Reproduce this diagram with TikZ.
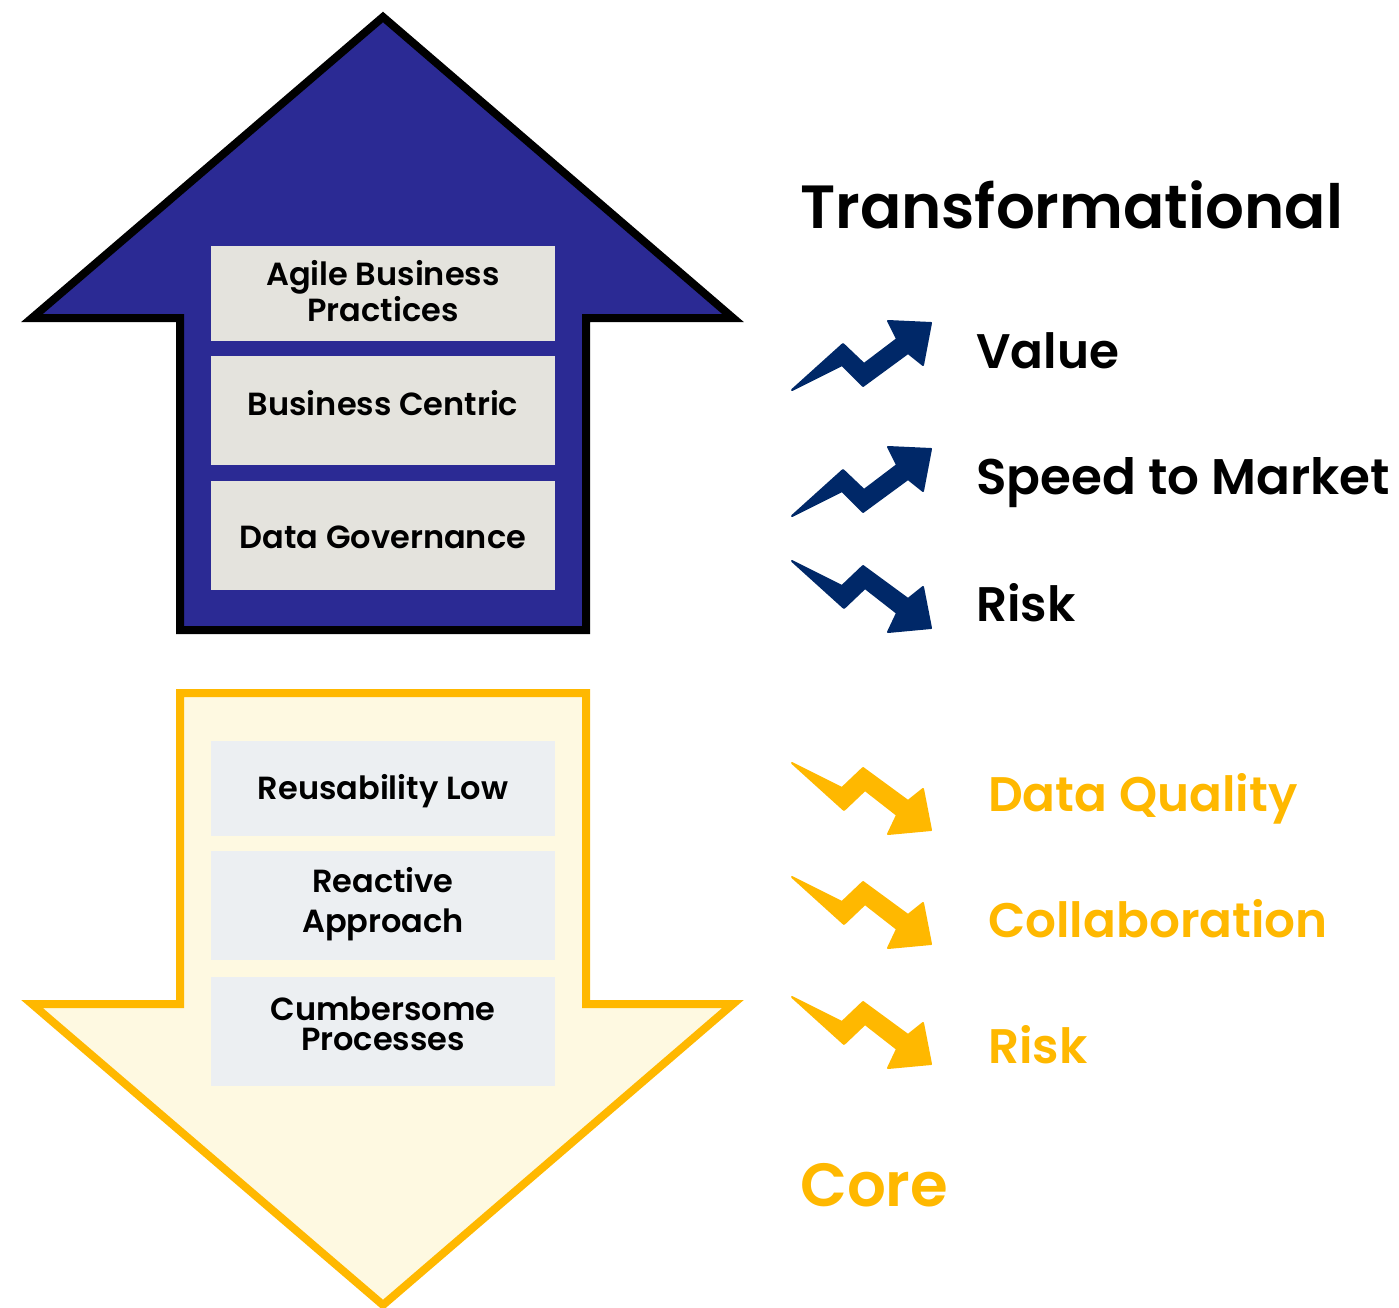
\documentclass[tikz,border=0pt]{standalone}
\usepackage{fontspec}
\setmainfont{Poppins}[BoldFont={Poppins SemiBold}]
\definecolor{upblue}{HTML}{2B2A94}
\definecolor{iconblue}{HTML}{002868}
\definecolor{coreyellow}{HTML}{FFB800}
\definecolor{corefill}{HTML}{FEF9E1}
\definecolor{upbox}{HTML}{E4E3DD}
\definecolor{downbox}{HTML}{ECEFF2}
\newcommand{\boxlift}[2]{\raisebox{#1}[0pt][0pt]{\begin{tabular}{c}#2\end{tabular}}}
\tikzset{
    every node/.style={inner sep=0mm},
    upbox/.style={fill=upbox, minimum width=344pt, font=\fontsize{32}{36}\selectfont\bfseries},
    downbox/.style={fill=downbox, minimum width=344pt, font=\fontsize{32}{36}\selectfont\bfseries},
    heading/.style={anchor=base west, font=\fontsize{61}{61}\selectfont\bfseries},
    item/.style={anchor=base west, font=\fontsize{48.5}{49}\selectfont\bfseries},
    upicon/.pic={\filldraw[line width=2pt, line join=round] (1,0) -- (52,-46) -- (73,-26) -- (106,-51) -- (97,-69) -- (140,-67) -- (132,-25) -- (117,-37) -- (72,-4) -- (51,-25) -- cycle;},
    downicon/.pic={\filldraw[line width=2pt, line join=round] (1,0) -- (51,25) -- (72,5) -- (117,38) -- (132,26) -- (140,67) -- (97,71) -- (106,52) -- (74,27) -- (53,47) -- cycle;}
}

\begin{document}
\begin{tikzpicture}[x=1pt, y=-1pt]
        \useasboundingbox (0,0) rectangle (1399,1308);
        % big arrows
        \draw[line width=8pt, fill=upblue] (383,17) -- (733,318) -- (586,318) -- (586,630) -- (180,630) -- (180,318) -- (32,318) -- cycle;
        \draw[line width=8pt, draw=coreyellow, fill=corefill] (180,693) -- (586,693) -- (586,1004) -- (733,1004) -- (383,1305) -- (32,1004) -- (180,1004) -- cycle;
        % boxes
        \node (agile) [upbox, minimum height=95pt] at (383,293.5) {\boxlift{-9.5pt}{Agile Business\\Practices}};
        \node (centric) [upbox, minimum height=109pt] at (383,410.5) {\boxlift{-4.5pt}{Business Centric}};
        \node (governance) [upbox, minimum height=109pt] at (383,535.5) {\boxlift{-12.5pt}{Data Governance}};
        \node (reuse) [downbox, minimum height=95pt] at (383,788.5) {\boxlift{-10.5pt}{Reusability Low}};
        \node (reactive) [downbox, minimum height=109pt] at (383,905.5) {\boxlift{-6.5pt}{Reactive\\[4pt]Approach}};
        \node (cumbersome) [downbox, minimum height=109pt] at (383,1031.5) {\boxlift{-3.5pt}{Cumbersome\\[-6pt]Processes}};
        % icons
        \pic[iconblue] at (791,390) {upicon};
        \pic[iconblue] at (791,516) {upicon};
        \pic[iconblue] at (791,561) {downicon};
        \pic[coreyellow] at (791,763) {downicon};
        \pic[coreyellow] at (791,877) {downicon};
        \pic[coreyellow] at (791,997) {downicon};
        % text on the right
        \node (transformational) [heading] at (800,228) {Transformational};
        \node (value) [item] at (976,368) {Value};
        \node (speed) [item, font=\fontsize{50}{50}\selectfont\bfseries] at (976,494) {Speed to Market};
        \node (risk) [item] at (976,621) {Risk};
        \node (quality) [item, text=coreyellow] at (988,811) {Data Quality};
        \node (collab) [item, text=coreyellow] at (988,937) {Collaboration};
        \node (riskcore) [item, text=coreyellow] at (988,1063) {Risk};
        \node (core) [heading, text=coreyellow] at (800,1206) {Core};
\end{tikzpicture}
\end{document}
